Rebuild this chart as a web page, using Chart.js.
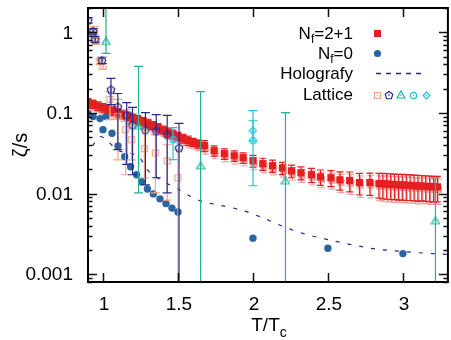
<!DOCTYPE html>
<html>
<head>
<meta charset="utf-8">
<script src="https://cdn.jsdelivr.net/npm/chart.js@4"></script>
<style>
  html, body { margin: 0; padding: 0; background: #fff; overflow: hidden; }
  canvas { display: block; }
</style>
</head>
<body>
<canvas id="zetaChart" width="453" height="340"></canvas>
<script>
// N_f=2+1 (red squares with error bars)
const nf3T = [0.90, 0.933, 0.967, 1.0, 1.033, 1.067, 1.10, 1.133, 1.167, 1.20, 1.233, 1.267, 1.30, 1.333, 1.367, 1.40, 1.433, 1.467, 1.50, 1.533, 1.567, 1.60, 1.633,
    1.676, 1.741, 1.809, 1.875, 1.934, 2.0, 2.066, 2.13, 2.197, 2.257, 2.32, 2.39, 2.45, 2.52, 2.58, 2.645, 2.71, 2.78, 2.84,
    2.866, 2.892, 2.918, 2.944, 2.97, 2.996, 3.022, 3.048, 3.074, 3.10, 3.126, 3.152, 3.178, 3.204, 3.23];
const nf3Zeta = [0.134, 0.129, 0.122, 0.116, 0.111, 0.106, 0.101, 0.096, 0.0914, 0.087, 0.0826, 0.0785, 0.0745, 0.070, 0.0657, 0.0617, 0.0577, 0.0543, 0.0512, 0.0483, 0.0456, 0.0433, 0.0415,
    0.0392, 0.034, 0.0312, 0.0294, 0.0278, 0.0255, 0.0234, 0.0221, 0.0208, 0.0191, 0.0181, 0.0171, 0.0161, 0.0157, 0.0148, 0.0145, 0.0137, 0.0137, 0.0133,
    0.0132, 0.0131, 0.0130, 0.0129, 0.0128, 0.0128, 0.0127, 0.0126, 0.0125, 0.0124, 0.0124, 0.0123, 0.0122, 0.0121, 0.0121];
const nf3Err = [0.016, 0.015, 0.015, 0.014, 0.013, 0.013, 0.012, 0.012, 0.011, 0.010, 0.010, 0.009, 0.009, 0.008, 0.008, 0.007, 0.007, 0.007, 0.006, 0.006, 0.006, 0.005, 0.005,
    0.006, 0.005, 0.0047, 0.0044, 0.0042, 0.0043, 0.004, 0.0038, 0.0036, 0.0034, 0.0033, 0.0034, 0.0035, 0.0035, 0.0038, 0.0040, 0.0041, 0.0042, 0.0045,
    0.0046, 0.0046, 0.0046, 0.0045, 0.0045, 0.0045, 0.0045, 0.0044, 0.0044, 0.0044, 0.0043, 0.0043, 0.0043, 0.0042, 0.0042];

// N_f=0 (blue dots)
const nf0T = [0.90, 0.934, 0.98, 1.02, 1.0, 1.06, 1.10, 1.145, 1.184, 1.224, 1.257, 1.296, 1.336, 1.38, 1.42, 1.46, 1.50, 2.0, 2.5, 3.0];
const nf0Zeta = [0.098, 0.090, 0.085, 0.090, 0.062, 0.056, 0.039, 0.0286, 0.0215, 0.0171, 0.0140, 0.0114, 0.0099, 0.0086, 0.0075, 0.0066, 0.0059, 0.0028, 0.0021, 0.0018];

// Holografy curve
const holoT = [0.93, 0.98, 1.03, 1.09, 1.243, 1.296, 1.355, 1.42, 1.487, 1.59, 1.651, 1.77, 1.914, 2.066, 2.217, 2.36, 2.513, 2.67, 2.82, 2.97, 3.13, 3.3];
const holoZeta = [0.039, 0.051, 0.045, 0.035, 0.028, 0.0197, 0.0162, 0.0136, 0.0117, 0.0091, 0.0081, 0.0072, 0.0063, 0.0050, 0.0038, 0.0031, 0.00265, 0.0023, 0.00205, 0.00193, 0.00183, 0.00176];

// Lattice: open squares
const latSqT = [0.941, 0.954, 0.98, 1.0, 1.046, 1.099, 1.151, 1.191, 1.276, 1.349, 1.428, 1.5];
const latSqZeta = [1.09, 0.77, 0.435, 0.377, 0.147, 0.090, 0.062, 0.0466, 0.036, 0.032, 0.0255, 0.0157];
const latSqLo = [1.0, 0.71, 0.40, 0.35, 0.0826, 0.0262, 0.0171, 0.0262, 0.0157, 0.0102, 0.0083, 0.0001];
const latSqHi = [1.18, 0.84, 0.47, 0.41, 0.184, 0.147, 0.110, 0.0716, 0.062, 0.0537, 0.0403, 0.035];
// Lattice: pentagons
const latPtT = [0.901, 0.934, 0.947, 0.993, 1.053, 1.099, 1.158, 1.197, 1.283, 1.355, 1.428, 1.507];
const latPtZeta = [1.41, 1.03, 0.818, 0.448, 0.195, 0.12, 0.095, 0.0716, 0.0621, 0.0605, 0.054, 0.037];
const latPtLo = [1.3, 0.95, 0.75, 0.41, 0.127, 0.035, 0.023, 0.0171, 0.0128, 0.0157, 0.0102, 0.0001];
const latPtHi = [1.52, 1.11, 0.89, 0.49, 0.268, 0.174, 0.134, 0.117, 0.101, 0.095, 0.093, 0.074];
// Lattice: triangles
const latTrT = [1.02, 1.237, 1.651, 2.217, 3.217];
const latTrZeta = [0.77, 0.0695, 0.0221, 0.0144, 0.0046];
const latTrLo = [0.548, 0.0102, 0.0001, 0.0001, 0.0001];
const latTrHi = [5, 0.377, 0.184, 0.101, 0.0157];
// Lattice: circles
const latCiT = [1.467, 2.0];
const latCiZeta = [0.0466, 0.0453];
const latCiLo = [0.0263, 0.0125];
const latCiHi = [0.0656, 0.107];
// Lattice: diamonds
const latDiT = [2.0];
const latDiZeta = [0.0603];
const latDiLo = [0.045];
const latDiHi = [0.080];

// axis ticks
const xTicks = [1, 1.5, 2, 2.5, 3];
const xTickLabels = ['1', '1.5', '2', '2.5', '3'];
const yTicks = [0.001, 0.01, 0.1, 1];
const yTickLabels = ['0.001', '0.01', '0.1', '1'];

const RED = '#e41f1f', PINK = '#f4a3a3', BLUE = '#2b65a1', NAVY = '#25258a';
const SALMON = '#f4a582', PENTA = '#2a2a8c', TEAL = '#1db394', CYAN = '#22c4dc';
const FONT = '"Liberation Sans", Arial, Helvetica, sans-serif';

function pts(xs, ys) {
    return xs.map((x, i) => ({ x: x, y: ys[i] }));
}

// open symbol with a centre dot, like gnuplot
function symbol(shape, color, size) {
    const c = document.createElement('canvas');
    c.width = c.height = size;
    const g = c.getContext('2d');
    const m = size / 2, r = size / 2 - 1;
    g.strokeStyle = color;
    g.fillStyle = color;
    g.lineWidth = 1.2;
    g.beginPath();
    if (shape === 'square') {
        g.rect(m - r + 0.5, m - r + 0.5, 2 * r - 1, 2 * r - 1);
    } else if (shape === 'circle') {
        g.arc(m, m, r - 0.3, 0, Math.PI * 2);
    } else if (shape === 'diamond') {
        g.moveTo(m, m - r); g.lineTo(m + r, m); g.lineTo(m, m + r); g.lineTo(m - r, m); g.closePath();
    } else if (shape === 'triangle') {
        g.moveTo(m, m - r); g.lineTo(m + r, m + r * 0.75); g.lineTo(m - r, m + r * 0.75); g.closePath();
    } else {
        for (let i = 0; i < 5; i++) {
            const a = -Math.PI / 2 + i * 2 * Math.PI / 5;
            const px = m + r * Math.cos(a), py = m + 0.5 + r * Math.sin(a);
            if (i) g.lineTo(px, py); else g.moveTo(px, py);
        }
        g.closePath();
    }
    g.stroke();
    g.fillRect(m - 0.7, m - 0.7, 1.4, 1.4);
    return c;
}

const imgSq = symbol('square', SALMON, 9);
const imgPt = symbol('pentagon', PENTA, 10);
const imgTr = symbol('triangle', TEAL, 10);
const imgCi = symbol('circle', CYAN, 9);
const imgDi = symbol('diamond', CYAN, 9);

// error bars, drawn just before each dataset
const errorBars = {
    id: 'errorBars',
    beforeDatasetDraw(chart, args) {
        const ds = chart.data.datasets[args.index];
        if (!ds.errLo) return;
        const ctx = chart.ctx, xs = chart.scales.x, ys = chart.scales.y, a = chart.chartArea;
        ctx.save();
        ctx.beginPath();
        ctx.rect(a.left, a.top, a.right - a.left, a.bottom - a.top);
        ctx.clip();
        const passes = ds.shadow ? [[ds.shadow, 1, 2.5], [ds.errColor, 0, 0]] : [[ds.errColor, 0, 0]];
        passes.forEach(([col, dx, dy]) => {
            ctx.strokeStyle = col;
            ctx.lineWidth = ds.errWidth || 1.2;
            ds.data.forEach((p, i) => {
                const x = xs.getPixelForValue(p.x) + dx;
                const yl = ys.getPixelForValue(ds.errLo[i]) + dy;
                const yh = ys.getPixelForValue(ds.errHi[i]) + dy;
                const c = ds.cap;
                ctx.beginPath();
                ctx.moveTo(x, yl); ctx.lineTo(x, yh);
                ctx.moveTo(x - c, yl); ctx.lineTo(x + c, yl);
                ctx.moveTo(x - c, yh); ctx.lineTo(x + c, yh);
                ctx.stroke();
            });
            if (dx || dy) {
                ctx.fillStyle = col;
                ds.data.forEach(p => {
                    const x = xs.getPixelForValue(p.x) + dx, y = ys.getPixelForValue(p.y) + dy;
                    ctx.fillRect(x - 3.6, y - 3.6, 7.2, 7.2);
                });
            }
        });
        ctx.restore();
    }
};

// border, gnuplot style ticks, labels and key
const frame = {
    id: 'frame',
    afterDraw(chart) {
        const ctx = chart.ctx, xs = chart.scales.x, ys = chart.scales.y, a = chart.chartArea;
        ctx.save();
        ctx.strokeStyle = '#111';
        ctx.lineWidth = 1.5;
        ctx.beginPath();
        xTicks.forEach(t => {
            const x = Math.round(xs.getPixelForValue(t)) + 0.5;
            ctx.moveTo(x, a.bottom); ctx.lineTo(x, a.bottom - 9);
            ctx.moveTo(x, a.top); ctx.lineTo(x, a.top + 9);
        });
        for (let e = -4; e <= 0; e++) {
            for (let k = 1; k <= 9; k++) {
                const v = k * Math.pow(10, e);
                if (v < ys.min || v > ys.max) continue;
                const y = Math.round(ys.getPixelForValue(v)) + 0.5;
                const len = k === 1 ? 9 : 4.5;
                ctx.moveTo(a.left, y); ctx.lineTo(a.left + len, y);
                ctx.moveTo(a.right, y); ctx.lineTo(a.right - len, y);
            }
        }
        ctx.stroke();
        ctx.strokeStyle = '#000';
        ctx.lineWidth = 2;
        ctx.strokeRect(a.left, a.top, a.right - a.left, a.bottom - a.top);

        // tick labels
        ctx.fillStyle = '#000';
        ctx.font = '19px ' + FONT;
        ctx.textAlign = 'right';
        ctx.textBaseline = 'middle';
        yTicks.forEach((t, i) => ctx.fillText(yTickLabels[i], a.left - 15, ys.getPixelForValue(t) + 1));
        ctx.textAlign = 'center';
        ctx.textBaseline = 'alphabetic';
        xTicks.forEach((t, i) => ctx.fillText(xTickLabels[i], xs.getPixelForValue(t) + 1, 310));

        // axis titles
        const tw = ctx.measureText('T/T').width;
        ctx.textAlign = 'left';
        const x0 = 270 - (tw + 9) / 2;
        ctx.fillText('T/T', x0, 331);
        ctx.font = '14px ' + FONT;
        ctx.fillText('c', x0 + tw, 337);
        ctx.save();
        ctx.translate(27, 145);
        ctx.rotate(-Math.PI / 2);
        ctx.font = '20px ' + FONT;
        ctx.textAlign = 'center';
        ctx.fillText('ζ/s', 0, 0);
        ctx.restore();

        // key
        const kx = 353;
        function subLabel(main, sub, rest, y) {
            ctx.font = '17px ' + FONT;
            const w1 = ctx.measureText(main).width, w3 = ctx.measureText(rest).width;
            ctx.font = '12px ' + FONT;
            const w2 = ctx.measureText(sub).width;
            let x = kx - w1 - w2 - w3;
            ctx.textAlign = 'left';
            ctx.font = '17px ' + FONT;
            ctx.fillText(main, x, y);
            ctx.font = '12px ' + FONT;
            ctx.fillText(sub, x + w1, y + 4);
            ctx.font = '17px ' + FONT;
            ctx.fillText(rest, x + w1 + w2, y);
        }
        subLabel('N', 'f', '=2+1', 39);
        subLabel('N', 'f', '=0', 59);
        ctx.textAlign = 'right';
        ctx.fillText('Holografy', kx, 79);
        ctx.fillText('Lattice', kx, 100);

        ctx.fillStyle = RED;
        ctx.fillRect(374, 30, 7, 7);
        ctx.fillStyle = BLUE;
        ctx.beginPath(); ctx.arc(377.5, 53.5, 3.6, 0, Math.PI * 2); ctx.fill();
        ctx.strokeStyle = NAVY;
        ctx.lineWidth = 1.3;
        ctx.setLineDash([5, 5]);
        ctx.beginPath(); ctx.moveTo(376, 73.5); ctx.lineTo(422, 73.5); ctx.stroke();
        ctx.setLineDash([]);
        [[imgSq, 377], [imgPt, 389], [imgTr, 401], [imgCi, 413], [imgDi, 426]].forEach(([img, x]) => {
            ctx.drawImage(img, Math.round(x - img.width / 2), Math.round(95 - img.height / 2));
        });
        ctx.restore();
    }
};

new Chart(document.getElementById('zetaChart'), {
    type: 'scatter',
    data: {
        datasets: [
            {
                label: 'Nf=2+1', data: pts(nf3T, nf3Zeta), order: 7,
                pointStyle: 'rect', pointRadius: 5.1, backgroundColor: RED, borderWidth: 0,
                errLo: nf3Zeta.map((v, i) => v - nf3Err[i]), errHi: nf3Zeta.map((v, i) => v + nf3Err[i]),
                errColor: RED, shadow: PINK, cap: 3.5, errWidth: 1.2
            },
            {
                label: 'Nf=0', data: pts(nf0T, nf0Zeta), order: 6,
                pointStyle: 'circle', pointRadius: 3.7, backgroundColor: BLUE, borderWidth: 0
            },
            {
                label: 'Holografy', data: pts(holoT, holoZeta), order: 5, showLine: true,
                pointRadius: 0, borderColor: NAVY, borderWidth: 1.2, borderDash: [4, 8],
                cubicInterpolationMode: 'monotone'
            },
            {
                label: 'Lattice sq', data: pts(latSqT, latSqZeta), order: 4,
                pointStyle: imgSq, errLo: latSqLo, errHi: latSqHi, errColor: SALMON, cap: 4.5
            },
            {
                label: 'Lattice pt', data: pts(latPtT, latPtZeta), order: 3,
                pointStyle: imgPt, errLo: latPtLo, errHi: latPtHi, errColor: PENTA, cap: 4.5
            },
            {
                label: 'Lattice tr', data: pts(latTrT, latTrZeta), order: 2,
                pointStyle: imgTr, errLo: latTrLo, errHi: latTrHi, errColor: TEAL, cap: 4.5
            },
            {
                label: 'Lattice ci', data: pts(latCiT, latCiZeta), order: 1,
                pointStyle: imgCi, errLo: latCiLo, errHi: latCiHi, errColor: CYAN, cap: 4.5
            },
            {
                label: 'Lattice di', data: pts(latDiT, latDiZeta), order: 0,
                pointStyle: imgDi, errLo: latDiLo, errHi: latDiHi, errColor: CYAN, cap: 4.5
            }
        ]
    },
    options: {
        responsive: false,
        animation: false,
        layout: { padding: { left: 88, top: 8, right: 1, bottom: 58 } },
        plugins: { legend: { display: false }, tooltip: { enabled: false } },
        scales: {
            x: { type: 'linear', min: 0.9, max: 3.3, display: false },
            y: { type: 'logarithmic', min: 0.0008, max: 2, display: false }
        }
    },
    plugins: [errorBars, frame]
});
</script>
</body>
</html>
